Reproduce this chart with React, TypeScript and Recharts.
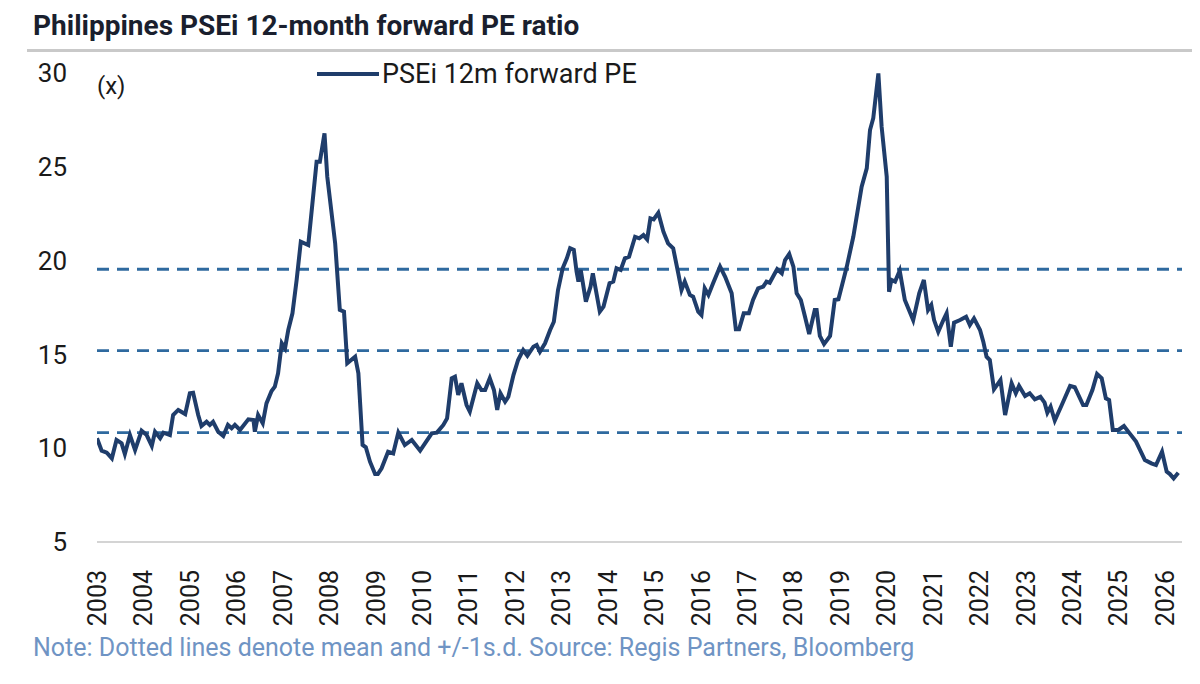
import React from "react";
import { LineChart, Line, XAxis, YAxis, ReferenceLine } from "recharts";

// decimal year of each reading
const dates = [
  2003.0, 2003.1, 2003.21, 2003.32, 2003.42, 2003.53, 2003.6, 2003.71, 2003.82, 2003.96,
  2004.07, 2004.18, 2004.25, 2004.36, 2004.43, 2004.57, 2004.64, 2004.75, 2004.9,
  2005.0, 2005.07, 2005.18, 2005.25, 2005.36, 2005.43, 2005.5, 2005.61, 2005.72, 2005.82, 2005.9, 2005.97,
  2006.08, 2006.26, 2006.37, 2006.4, 2006.47, 2006.57, 2006.65, 2006.76, 2006.83, 2006.9, 2006.98,
  2007.05, 2007.12, 2007.21, 2007.3, 2007.39, 2007.55, 2007.73, 2007.8, 2007.9, 2007.96,
  2008.13, 2008.23, 2008.32, 2008.39, 2008.56, 2008.63, 2008.72, 2008.79, 2008.88, 2008.99,
  2009.05, 2009.13, 2009.27, 2009.38, 2009.49, 2009.63, 2009.78, 2009.96,
  2010.21, 2010.32, 2010.46, 2010.54, 2010.64, 2010.71, 2010.78, 2010.85, 2010.96,
  2011.03, 2011.19, 2011.28, 2011.36, 2011.46, 2011.55, 2011.62, 2011.69, 2011.79, 2011.86, 2011.97,
  2012.07, 2012.18, 2012.27, 2012.4, 2012.47, 2012.54, 2012.65, 2012.76, 2012.84, 2012.93,
  2013.03, 2013.12, 2013.19, 2013.27, 2013.33, 2013.37, 2013.42, 2013.53, 2013.63, 2013.68, 2013.83, 2013.91,
  2014.04, 2014.12, 2014.19, 2014.28, 2014.37, 2014.46, 2014.59, 2014.68, 2014.77, 2014.85, 2014.92, 2014.99,
  2015.09, 2015.2, 2015.3, 2015.41, 2015.52, 2015.59, 2015.66, 2015.77, 2015.84, 2015.95,
  2016.02, 2016.09, 2016.17, 2016.27, 2016.42, 2016.53, 2016.67, 2016.76, 2016.83, 2016.93,
  2017.04, 2017.13, 2017.24, 2017.35, 2017.42, 2017.49, 2017.58, 2017.65, 2017.75, 2017.82, 2017.91,
  2018.0, 2018.07, 2018.16, 2018.25, 2018.34, 2018.46, 2018.5, 2018.57, 2018.66, 2018.79, 2018.89, 2018.97,
  2019.15, 2019.29, 2019.47, 2019.58, 2019.65, 2019.72, 2019.83, 2019.9,
  2020.01, 2020.06, 2020.11, 2020.19, 2020.29, 2020.4, 2020.58, 2020.71, 2020.81, 2020.9, 2020.97,
  2021.03, 2021.12, 2021.23, 2021.3, 2021.39, 2021.46, 2021.59, 2021.72, 2021.8, 2021.89,
  2022.02, 2022.09, 2022.16, 2022.23, 2022.32, 2022.46, 2022.56, 2022.7, 2022.79, 2022.86, 2022.99,
  2023.09, 2023.2, 2023.32, 2023.41, 2023.47, 2023.54, 2023.63, 2023.78, 2023.96,
  2024.06, 2024.24, 2024.31, 2024.44, 2024.54, 2024.64, 2024.73, 2024.8, 2024.88,
  2025.0, 2025.12, 2025.23, 2025.38, 2025.46, 2025.57, 2025.71, 2025.81, 2025.94,
  2026.04, 2026.11, 2026.19, 2026.29,
];

// PSEi 12m forward PE (x)
const forwardPE = [
  10.53, 9.87, 9.76, 9.46, 10.44, 10.26, 9.69, 10.7, 9.9, 10.93,
  10.7, 10.12, 10.88, 10.53, 10.83, 10.7, 11.77, 12.04, 11.82,
  12.93, 12.96, 11.77, 11.18, 11.41, 11.24, 11.41, 10.88, 10.65, 11.24, 11.06, 11.24,
  10.97, 11.54, 11.5, 10.88, 11.77, 11.33, 12.39, 13.05, 13.28, 13.99, 15.59,
  15.32, 16.3, 17.19, 18.97, 21.01, 20.83, 25.27, 25.27, 26.78, 24.47,
  20.92, 17.37, 17.28, 14.53, 14.88, 13.99, 10.17, 10.05, 9.28, 8.62,
  8.62, 8.93, 9.81, 9.72, 10.83, 10.17, 10.44, 9.87,
  10.79, 10.83, 11.24, 11.59, 13.73, 13.81, 12.84, 13.46, 12.3,
  11.95, 13.46, 13.1, 13.1, 13.73, 13.1, 12.04, 12.93, 12.48, 12.74, 13.9,
  14.7, 15.23, 14.93, 15.41, 15.5, 15.14, 15.59, 16.3, 16.74, 18.43,
  19.59, 20.12, 20.66, 20.57, 19.41, 18.88, 19.5, 17.81, 18.61, 19.32, 17.28, 17.55,
  18.79, 18.88, 19.59, 19.5, 20.12, 20.21, 21.27, 21.19, 21.36, 21.13, 22.25, 22.2,
  22.55, 21.54, 20.92, 20.66, 19.32, 18.43, 18.88, 18.17, 18.08, 17.28,
  17.1, 18.52, 18.17, 18.79, 19.68, 19.14, 18.26, 16.34, 16.34, 17.19,
  17.19, 17.9, 18.52, 18.61, 18.88, 18.82, 19.23, 19.54, 19.32, 20.03, 20.35,
  19.68, 18.26, 17.9, 17.01, 16.09, 17.37, 17.37, 15.98, 15.55, 15.98, 17.9, 17.94,
  19.68, 21.27, 23.94, 24.92, 26.96, 27.59, 29.98, 27.14,
  24.47, 18.34, 18.97, 18.88, 19.46, 17.9, 16.83, 18.26, 18.97, 17.37, 17.63,
  16.83, 16.2, 16.83, 17.19, 15.41, 16.69, 16.83, 17.01, 16.57, 16.92,
  16.3, 15.68, 14.88, 14.7, 13.14, 13.63, 11.77, 13.46, 12.93, 13.32, 12.78,
  12.93, 12.61, 12.74, 12.43, 11.89, 12.21, 11.47, 12.3, 13.32,
  13.25, 12.3, 12.3, 13.1, 13.96, 13.73, 12.66, 12.57, 10.97,
  10.97, 11.18, 10.83, 10.35, 9.94, 9.37, 9.19, 9.1, 9.81,
  8.75, 8.62, 8.39, 8.69,
];

// mean and +/-1 s.d.
const bands = [19.54, 15.2, 10.83];

const yearTicks = [
  2003, 2004, 2005, 2006, 2007, 2008, 2009, 2010, 2011, 2012, 2013, 2014,
  2015, 2016, 2017, 2018, 2019, 2020, 2021, 2022, 2023, 2024, 2025, 2026,
];
const peTicks = [5, 10, 15, 20, 25, 30];

const data = dates.map((t, i) => ({ t, pe: forwardPE[i] }));

const NAVY = "#1f3d6b";
const DASH = "#2f6a9f";
const FONT = "Roboto, 'Open Sans', sans-serif";

const YearTick = (props: any) => {
  const { x, y, payload } = props;
  return (
    <text
      x={0}
      y={0}
      transform={`translate(${x},${y + 20}) rotate(-90)`}
      textAnchor="end"
      dy="0.36em"
      fill="#1a1a1a"
      fontSize={25}
      fontFamily={FONT}
    >
      {payload.value}
    </text>
  );
};

export default function App() {
  return (
    <div
      style={{
        position: "relative",
        width: 1200,
        height: 684,
        margin: -8,
        background: "#fff",
        fontFamily: FONT,
        overflow: "hidden",
      }}
    >
      {/* title + rule */}
      <div
        style={{
          position: "absolute",
          left: 33,
          top: 9,
          fontSize: 28,
          lineHeight: "34px",
          fontWeight: 700,
          color: "#1a1f2e",
          whiteSpace: "nowrap",
        }}
      >
        Philippines PSEi 12-month forward PE ratio
      </div>
      <div
        style={{
          position: "absolute",
          left: 27,
          right: 0,
          top: 49,
          height: 3,
          background: "#c9c9c9",
        }}
      />

      <div style={{ position: "absolute", left: 0, top: 0 }}>
        <LineChart
          width={1200}
          height={684}
          data={data}
          margin={{ top: 73, right: 18, bottom: 0, left: 0 }}
        >
          <XAxis
            dataKey="t"
            type="number"
            domain={[2003, 2026.37]}
            ticks={yearTicks}
            allowDataOverflow
            interval={0}
            height={142}
            tickLine={false}
            axisLine={{ stroke: "#d4d4d4", strokeWidth: 2 }}
            tick={<YearTick />}
          />
          <YAxis
            type="number"
            domain={[5, 30]}
            ticks={peTicks}
            width={97}
            axisLine={false}
            tickLine={false}
            tickSize={0}
            tickMargin={30}
            tick={{ fill: "#1a1a1a", fontSize: 26, fontFamily: FONT }}
          />
          {bands.map((v) => (
            <ReferenceLine
              key={v}
              y={v}
              stroke={DASH}
              strokeWidth={2.8}
              strokeDasharray="12 8"
            />
          ))}
          <Line
            type="linear"
            dataKey="pe"
            stroke={NAVY}
            strokeWidth={4}
            dot={false}
            isAnimationActive={false}
          />
        </LineChart>
      </div>

      {/* unit label */}
      <div
        style={{
          position: "absolute",
          left: 97,
          top: 72,
          fontSize: 24,
          color: "#1a1a1a",
        }}
      >
        (x)
      </div>

      {/* legend */}
      <div
        style={{
          position: "absolute",
          left: 317,
          top: 57,
          display: "flex",
          alignItems: "center",
          fontSize: 27,
          lineHeight: "34px",
          color: "#1a1a1a",
          whiteSpace: "nowrap",
        }}
      >
        <span
          style={{
            display: "inline-block",
            width: 62,
            height: 4,
            background: NAVY,
            marginRight: 3,
          }}
        />
        PSEi 12m forward PE
      </div>

      {/* footnote */}
      <div
        style={{
          position: "absolute",
          left: 33,
          top: 632,
          fontSize: 25,
          lineHeight: "32px",
          color: "#6f94c4",
          whiteSpace: "nowrap",
        }}
      >
        Note: Dotted lines denote mean and +/-1s.d. Source: Regis Partners, Bloomberg
      </div>
    </div>
  );
}
